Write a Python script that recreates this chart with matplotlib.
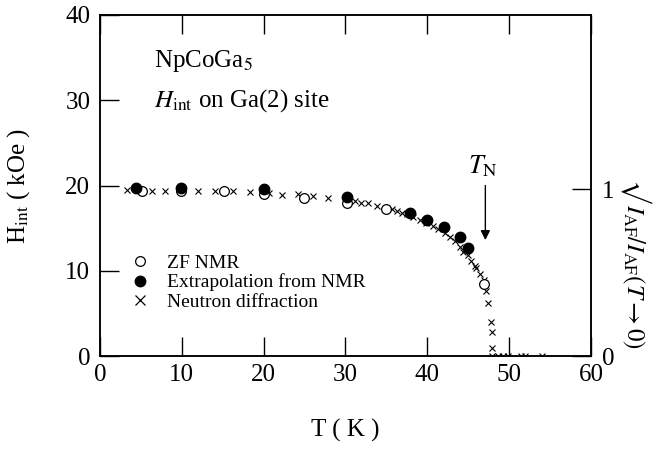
"""Internal field at the Ga(2) site of NpCoGa5 vs temperature."""

import matplotlib
matplotlib.use("Agg")
import matplotlib.pyplot as plt

plt.rcParams["font.family"] = ["Liberation Serif", "DejaVu Serif"]
plt.rcParams["mathtext.fontset"] = "stix"

# ZF NMR (open circles)
T_nmr = [5.1, 9.9, 15.1, 20.0, 24.9, 30.2, 35.0, 46.9]
H_nmr = [19.4, 19.4, 19.4, 19.0, 18.5, 18.0, 17.3, 8.5]

# extrapolated from NMR (filled circles)
T_ext = [4.4, 9.9, 20.0, 30.2, 37.9, 40.0, 42.0, 44.0, 45.0]
H_ext = [19.7, 19.7, 19.55, 18.7, 16.8, 16.0, 15.1, 14.0, 12.7]

# neutron diffraction, already scaled onto the H_int axis
T_neu = [3.3, 6.3, 8.0, 12.0, 14.1, 16.3, 18.3, 20.6, 22.2, 24.2, 26.0, 27.9,
         31.2, 31.9, 32.8, 33.8, 35.7, 36.3, 36.9, 37.5, 38.3, 39.1, 39.9,
         40.7, 41.3, 42.2, 42.8, 43.4, 44.0, 44.4, 45.0, 45.4, 45.8, 46.0,
         46.5, 46.9, 47.2, 47.4, 47.8, 47.9, 47.9, 47.9, 48.7, 49.3, 49.9,
         51.5, 52.0, 54.0]
H_neu = [19.45, 19.4, 19.4, 19.3, 19.3, 19.3, 19.2, 19.1, 18.9, 19.0, 18.8,
         18.5, 18.2, 18.0, 17.9, 17.6, 17.2, 17.0, 16.8, 16.6, 16.3, 16.0,
         15.6, 15.2, 14.9, 14.4, 14.0, 13.5, 12.8, 12.2, 11.9, 11.2, 10.6,
         10.3, 9.6, 8.9, 7.6, 6.2, 4.0, 2.8, 1.0, 0.0, 0.0, 0.0, 0.0, 0.0,
         0.0, 0.0]

H_SAT = 19.55   # H_int that corresponds to sqrt(I/I0) = 1
T_N = 47.1

FS = 18

fig = plt.figure(figsize=(6.58, 4.53), dpi=100)
ax = fig.add_axes([0.152, 0.214, 0.746, 0.753])

ax.plot(T_neu, H_neu, ls="none", marker="x", ms=4.6, mew=0.8, color="black",
        label="Neutron diffraction")
ax.plot(T_nmr, H_nmr, ls="none", marker="o", ms=7, mfc="white", mec="black",
        mew=0.9, label="ZF NMR")
ax.plot(T_ext, H_ext, ls="none", marker="o", ms=7.5, color="black",
        label="Extrapolation from NMR")

ax.set_xlim(0, 60)
ax.set_ylim(0, 40)
ax.set_xticks([0, 10, 20, 30, 40, 50, 60])
ax.set_yticks([0, 10, 20, 30, 40])
ax.tick_params(direction="in", length=13.5, width=1.0, labelsize=FS, pad=6,
               top=True)
ax.tick_params(axis="y", right=False, pad=7)
for s in ax.spines.values():
    s.set_linewidth(1.1)

ax.set_xlabel("T ( K )", fontsize=FS, va="center")
ax.xaxis.set_label_coords(0.5, -0.218)
ax.set_ylabel(r"H$_{\rm int}$ ( kOe )", fontsize=FS, va="center")
ax.yaxis.set_label_coords(-0.166, 0.5)

# right-hand scale: normalised neutron amplitude
ax2 = ax.twinx()
ax2.set_ylim(0, 40 / H_SAT)
ax2.set_yticks([0, 1])
ax2.tick_params(direction="in", length=13.5, width=1.0, labelsize=FS, pad=8)
for s in ax2.spines.values():
    s.set_linewidth(1.1)
ax2.text(1.093, 0.27, "$\u221a\\,I_{\\rm AF}/I_{\\rm AF}(T\\rightarrow 0)$",
         transform=ax.transAxes, rotation=-90, fontsize=18,
         ha="center", va="center")

# sample annotation
ax.text(0.11, 0.865, r"NpCoGa$_5$", transform=ax.transAxes, fontsize=FS,
        va="center")
ax.text(0.11, 0.75, r"$H_{\rm int}$ on Ga(2) site", transform=ax.transAxes,
        fontsize=FS, va="center")

# Neel temperature marker
ax.annotate("", xy=(T_N, 13.6), xytext=(T_N, 20.0),
            arrowprops=dict(arrowstyle="-|>", color="black", lw=1.0,
                            mutation_scale=14, shrinkA=0, shrinkB=0))
ax.text(T_N - 0.3, 22.3, r"$T_{\rm N}$", fontsize=19, ha="center",
        va="center")

handles, labels = ax.get_legend_handles_labels()
order = [1, 2, 0]
leg = ax.legend([handles[i] for i in order], [labels[i] for i in order],
                loc="upper left", bbox_to_anchor=(0.05, 0.315), frameon=False,
                fontsize=14, handlelength=1.0, handletextpad=0.9,
                labelspacing=0.08, borderaxespad=0.0, borderpad=0.3)
# the cross in the key is drawn a bit bigger than on the curve
leg.legend_handles[2].set_markersize(7)
leg.legend_handles[2].set_markeredgewidth(0.9)

fig.savefig("out.png", dpi=100)
